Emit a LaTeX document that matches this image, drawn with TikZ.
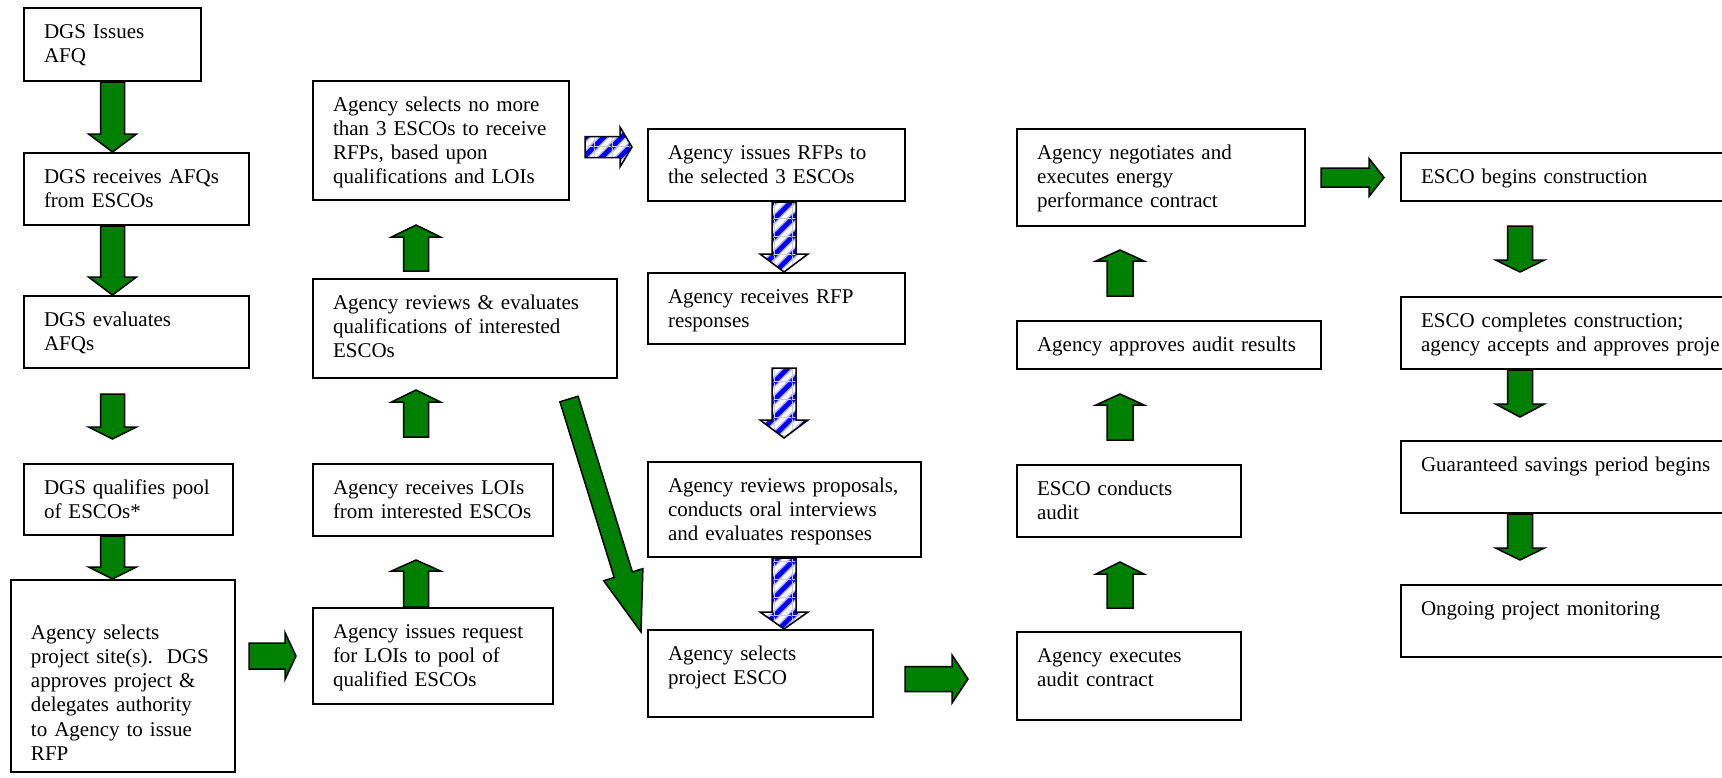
\documentclass[tikz,border=0pt]{standalone}
\usepackage{fontspec}
\setmainfont{Liberation Serif}
\usepackage{xcolor}
\usepackage{tikz}
\usetikzlibrary{calc, patterns}
\definecolor{escogreen}{HTML}{008000}
\definecolor{rfpblue}{HTML}{0000FF}

% striped fill of the RFP arrows
\pgfdeclarepatterninherentlycolored{rfpstripes}
{\pgfpointorigin}{\pgfpoint{9pt}{9pt}}{\pgfpoint{9pt}{9pt}}
{
  \pgfsetfillcolor{white}
  \pgfpathrectangle{\pgfpointorigin}{\pgfpoint{9pt}{9pt}}
  \pgfusepath{fill}
  \pgfsetlinewidth{4pt}
  \pgfsetstrokecolor{rfpblue!30}
  \pgfpathmoveto{\pgfpoint{0pt}{0pt}}\pgfpathlineto{\pgfpoint{9pt}{9pt}}
  \pgfpathmoveto{\pgfpoint{4.5pt}{-4.5pt}}\pgfpathlineto{\pgfpoint{13.5pt}{4.5pt}}
  \pgfpathmoveto{\pgfpoint{-4.5pt}{4.5pt}}\pgfpathlineto{\pgfpoint{4.5pt}{13.5pt}}
  \pgfusepath{stroke}
  \pgfsetlinewidth{2.4pt}
  \pgfsetstrokecolor{rfpblue}
  \pgfpathmoveto{\pgfpoint{0pt}{0pt}}\pgfpathlineto{\pgfpoint{9pt}{9pt}}
  \pgfpathmoveto{\pgfpoint{4.5pt}{-4.5pt}}\pgfpathlineto{\pgfpoint{13.5pt}{4.5pt}}
  \pgfpathmoveto{\pgfpoint{-4.5pt}{4.5pt}}\pgfpathlineto{\pgfpoint{4.5pt}{13.5pt}}
  \pgfusepath{stroke}
  \pgfsetlinewidth{0.4pt}
  \pgfsetstrokecolor{black!20}
  \pgfpathmoveto{\pgfpoint{0pt}{0.2pt}}\pgfpathlineto{\pgfpoint{9pt}{0.2pt}}
  \pgfpathmoveto{\pgfpoint{0.2pt}{0pt}}\pgfpathlineto{\pgfpoint{0.2pt}{9pt}}
  \pgfusepath{stroke}
}

% block arrow sizes
\tikzset{
  ba shaft/.store in=\bashaft, ba wing/.store in=\bawing,
  ba head/.store in=\bahead,
  ba from gap/.store in=\bagapa, ba to gap/.store in=\bagapb,
  ba shaft=6pt, ba wing=12pt, ba head=9pt, ba from gap=0pt, ba to gap=0pt,
}

% block arrow from #2 to #3
\newcommand{\blockarrow}[3][]{%
  \draw[#1] let \p1=(#2), \p2=(#3),
      \p3=($(\p1)!\bagapa!(\p2)$), \p4=($(\p2)!\bagapb!(\p1)$),
      \p5=($(\p4)!\bahead!(\p3)$) in
    ($(\p3)!\bashaft!90:(\p4)$) -- ($(\p5)!\bashaft!90:(\p4)$)
    -- ($(\p5)!\bawing!90:(\p4)$) -- (\p4)
    -- ($(\p5)!\bawing!-90:(\p4)$) -- ($(\p5)!\bashaft!-90:(\p4)$)
    -- ($(\p3)!\bashaft!-90:(\p4)$) -- cycle;
}

\begin{document}
\begin{tikzpicture}[
        x=0.5pt, y=-0.5pt,
        procbox/.style 2 args={draw, line width=1pt, anchor=north west, align=left,
            inner xsep=10pt, inner ysep=0pt, font=\fontsize{10.5}{12.1}\selectfont,
            /utils/exec={\pgfmathsetlengthmacro\boxtw{#1*0.5pt-20pt}%
                         \pgfmathsetlengthmacro\boxtd{#2*0.5pt-15pt}},
            text width=\boxtw, text height=15pt, text depth=\boxtd},
        greenarrow/.style={draw=black, line width=0.75pt, line join=miter, fill=escogreen},
        stripearrow/.style={draw=black, line width=0.75pt, line join=miter, pattern=rfpstripes},
    ]
    \useasboundingbox[fill=white] (0,0) rectangle (1722,777);

    %--- DGS column ---
    \node[procbox={177}{73}]  (a1) at (23,7)    {DGS Issues\\AFQ};
    \node[procbox={225}{72}]  (a2) at (23,152)  {DGS receives AFQs\\from ESCOs};
    \node[procbox={225}{72}]  (a3) at (23,295)  {DGS evaluates\\AFQs};
    \node[procbox={209}{71}]  (a4) at (23,463)  {DGS qualifies pool\\of ESCOs*};
    \node[procbox={224}{187}, text height=17.5pt] (a5) at (10,579)
        {\mbox{}\\Agency selects\\project site(s).\ \ DGS\\approves project \&\\delegates authority\\to Agency to issue\\RFP};

    \blockarrow[greenarrow]{a1.south}{a1.south |- a2.north}
    \blockarrow[greenarrow]{a1.south |- a2.south}{a1.south |- a3.north}
    \blockarrow[greenarrow, ba head=6pt, ba from gap=12.5pt, ba to gap=12pt]{a1.south |- a3.south}{a1.south |- a4.north}
    \blockarrow[greenarrow, ba head=6pt]{a1.south |- a4.south}{a1.south |- a5.north}

    %--- LOI column ---
    \node[procbox={240}{96}]  (b1) at (312,607) {Agency issues request\\for LOIs to pool of\\qualified ESCOs};
    \node[procbox={240}{72}]  (b2) at (312,463) {Agency receives LOIs\\\mbox{from interested ESCOs}};
    \node[procbox={304}{99}]  (b3) at (312,278) {Agency reviews \& evaluates\\qualifications of interested\\ESCOs};
    \node[procbox={256}{119}] (b4) at (312,80)  {Agency selects no more\\than 3 ESCOs to receive\\RFPs, based upon\\qualifications and LOIs};

    \blockarrow[greenarrow, ba shaft=6.5pt, ba wing=11.75pt, ba head=5.5pt, ba from gap=6.5pt, ba to gap=8pt]{a5.east |- b1.west}{b1.west}
    \blockarrow[greenarrow, ba shaft=6.25pt, ba wing=12.25pt, ba head=5.5pt, ba to gap=11.5pt]{[xshift=52pt]b1.north west}{[xshift=52pt]b2.south west}
    \blockarrow[greenarrow, ba shaft=6.25pt, ba wing=12.25pt, ba head=6pt, ba from gap=13pt, ba to gap=5.5pt]{[xshift=52pt]b2.north west}{[xshift=52pt]b3.south west}
    \blockarrow[greenarrow, ba shaft=6.25pt, ba wing=12.25pt, ba head=6pt, ba from gap=3.5pt, ba to gap=12pt]{[xshift=52pt]b3.north west}{[xshift=52pt]b4.south west}

    %--- RFP column ---
    \node[procbox={257}{72}]  (c1) at (647,128) {Agency issues RFPs to\\the selected 3 ESCOs};
    \node[procbox={257}{71}]  (c2) at (647,272) {Agency receives RFP\\responses};
    \node[procbox={273}{95}]  (c3) at (647,461) {Agency reviews proposals,\\conducts oral interviews\\and evaluates responses};
    \node[procbox={225}{87}]  (c4) at (647,629) {Agency selects\\project ESCO};

    \blockarrow[stripearrow, ba shaft=5.25pt, ba wing=10pt, ba head=6pt, ba from gap=7.5pt, ba to gap=7.5pt]{[yshift=-33.5pt]b4.north east}{[yshift=-9.5pt]c1.north west}
    \blockarrow[stripearrow]{[xshift=68.5pt]c1.south west}{[xshift=68.5pt]c2.north west}
    \blockarrow[stripearrow, ba from gap=11.5pt, ba to gap=11.5pt]{[xshift=68.5pt]c2.south west}{[xshift=68.5pt]c3.north west}
    \blockarrow[stripearrow, ba head=8.5pt]{[xshift=68.5pt]c3.south west}{[xshift=68.5pt]c4.north west}
    \blockarrow[greenarrow, ba shaft=4.75pt, ba wing=10.25pt, ba head=30pt]{[xshift=-24.5pt, yshift=-10pt]b3.south east}{[xshift=-3pt, yshift=-1.5pt]c4.north west}

    %--- audit column ---
    \node[procbox={224}{88}]  (d1) at (1016,631) {Agency executes\\audit contract};
    \node[procbox={224}{72}]  (d2) at (1016,464) {ESCO conducts\\audit};
    \node[procbox={304}{48}]  (d3) at (1016,320) {Agency approves audit results};
    \node[procbox={288}{97}]  (d4) at (1016,128) {Agency negotiates and\\executes energy\\performance contract};

    \blockarrow[greenarrow, ba shaft=6.25pt, ba head=8pt, ba from gap=15.5pt, ba to gap=24pt]{[yshift=-25pt]c4.north east}{[yshift=-24pt]d1.north west}
    \blockarrow[greenarrow, ba shaft=6.5pt, ba head=6pt, ba from gap=11.5pt, ba to gap=12pt]{[xshift=52pt]d1.north west}{[xshift=52pt]d2.south west}
    \blockarrow[greenarrow, ba shaft=6.5pt, ba head=5.5pt, ba from gap=12pt, ba to gap=12pt]{[xshift=52pt]d2.north west}{[xshift=52pt]d3.south west}
    \blockarrow[greenarrow, ba shaft=6.5pt, ba head=5.5pt, ba from gap=12pt, ba to gap=11.5pt]{[xshift=52pt]d3.north west}{[xshift=52pt]d4.south west}

    %--- construction column ---
    \node[procbox={400}{48}]  (e1) at (1400,152) {ESCO begins construction};
    \node[procbox={400}{72}]  (e2) at (1400,296) {ESCO completes construction;\\agency accepts and approves proje};
    \node[procbox={400}{72}]  (e3) at (1400,440) {Guaranteed savings period begins};
    \node[procbox={400}{72}]  (e4) at (1400,584) {Ongoing project monitoring};

    \blockarrow[greenarrow, ba shaft=4.75pt, ba wing=9.5pt, ba head=7.5pt, ba from gap=7.5pt, ba to gap=8pt]{d4.east}{e1.west |- d4.east}
    \blockarrow[greenarrow, ba shaft=6.25pt, ba wing=12.25pt, ba head=6pt, ba from gap=12pt, ba to gap=12pt]{[xshift=60pt]e1.south west}{[xshift=60pt]e2.north west}
    \blockarrow[greenarrow, ba shaft=6.25pt, ba wing=12.25pt, ba head=6.5pt, ba to gap=11.5pt]{[xshift=60pt]e2.south west}{[xshift=60pt]e3.north west}
    \blockarrow[greenarrow, ba shaft=6.25pt, ba wing=12.25pt, ba head=6pt, ba to gap=12pt]{[xshift=60pt]e3.south west}{[xshift=60pt]e4.north west}
\end{tikzpicture}
\end{document}
